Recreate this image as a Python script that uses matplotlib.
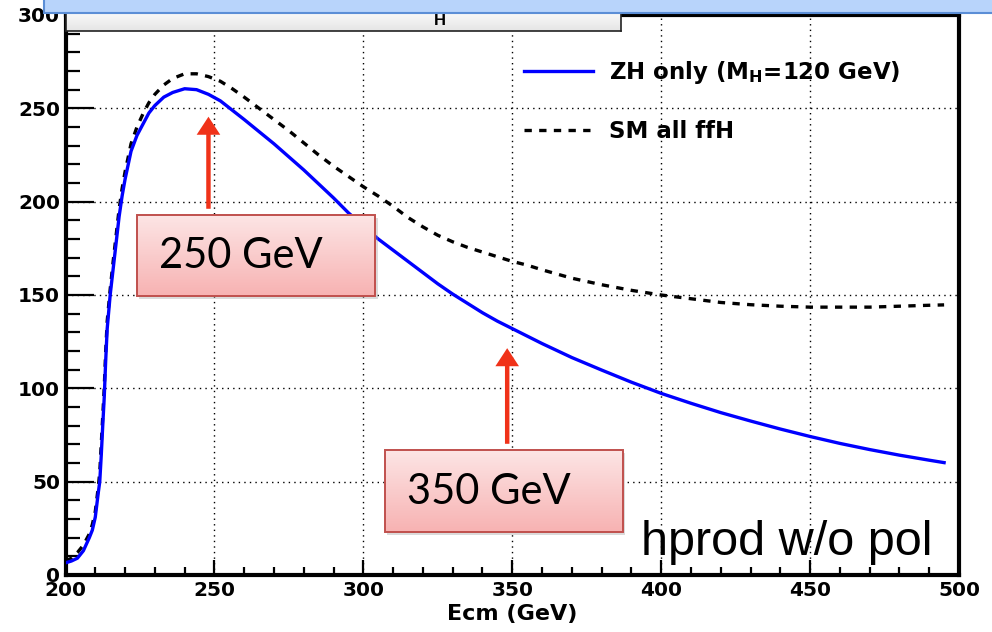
import numpy as np
import matplotlib
matplotlib.use("Agg")
import matplotlib.pyplot as plt
from matplotlib.patches import Rectangle, FancyArrowPatch, ArrowStyle

plt.rcParams["font.family"] = ["DejaVu Sans"]
plt.rcParams["mathtext.fontset"] = "custom"
plt.rcParams["mathtext.rm"] = "DejaVu Sans"
plt.rcParams["mathtext.bf"] = "DejaVu Sans:bold"

# Centre-of-mass energy (GeV)
ecm = [200, 202, 204, 206, 208, 209, 210, 211, 211.5, 212, 212.5, 213, 213.5,
       214, 215, 216, 217, 218, 219, 220, 222, 224, 226, 228, 230, 233, 236,
       240, 244, 248, 252, 256, 260, 265, 270, 275, 280, 285, 290, 295, 300,
       305, 310, 315, 320, 325, 330, 335, 340, 345, 350, 355, 360, 370, 380,
       390, 400, 410, 420, 430, 440, 450, 460, 470, 480, 490, 495]

# Cross section, ZH only (M_H = 120 GeV)
xs_zh = [6.5, 7.5, 9, 13, 20, 24, 31, 44, 50, 64, 80, 95, 115,
         132, 150, 164, 178, 192, 203, 212, 227, 235.5, 241.5, 247.5, 251.5, 256, 258.5,
         260.5, 260, 257.5, 254, 249, 244, 237.5, 231, 224, 217, 209.5, 202, 194, 187,
         180, 174, 168, 162, 156, 150.5, 145.5, 140.5, 136, 132, 128, 124, 116.5, 109.8,
         103.3, 97.3, 92, 87, 82.5, 78.2, 74.2, 70.5, 67.2, 64.2, 61.5, 60.2]

# Cross section, SM all ffH
xs_sm = [7.5, 9, 12, 16, 22, 27, 34, 47, 55, 70, 85, 100, 120,
         136, 153, 168, 182, 196, 207, 216, 231, 240, 247, 253, 257.5, 262.5, 266,
         268.5, 268.5, 267, 264.5, 260.5, 256, 250, 244, 238, 231.5, 225, 219, 213.5, 208,
         203, 197.5, 191.5, 186.5, 182, 178.5, 175.5, 173, 170.5, 168, 166, 163.5, 159, 155.5,
         152.5, 150, 148, 146, 144.8, 144, 143.5, 143.5, 143.5, 144, 144.5, 144.7]

x_major = [200, 250, 300, 350, 400, 450, 500]
y_major = [0, 50, 100, 150, 200, 250, 300]

label_zh = r"ZH only (M$_{\mathbf{H}}$=120 GeV)"
label_sm = "SM all ffH"
x_title = "Ecm (GeV)"
markers = [(248, "250 GeV"), (348.3, "350 GeV")]
note = "hprod w/o pol"

W, H = 992, 632
fig = plt.figure(figsize=(W / 100, H / 100), dpi=100)
ax = fig.add_axes([65.5 / W, 1 - 575 / H, (959 - 65.5) / W, (575 - 15) / H])

ax.plot(ecm, xs_zh, color="#0000ff", lw=2.4, zorder=4, label=label_zh)
ax.plot(ecm, xs_sm, color="black", lw=2.4, ls=(0, (2.2, 2.2)), zorder=3, label=label_sm)

ax.set_xticks(x_major)
ax.set_yticks(y_major)
ax.set_xticks(np.arange(200, 501, 10), minor=True)
ax.set_yticks(np.arange(0, 301, 10), minor=True)
ax.tick_params(axis="both", which="both", direction="in", width=1.6, color="black")
ax.tick_params(axis="y", which="major", length=20, pad=4)
ax.tick_params(axis="y", which="minor", length=10)
ax.tick_params(axis="x", which="major", length=11, pad=4)
ax.tick_params(axis="x", which="minor", length=6)
for lab in ax.get_xticklabels() + ax.get_yticklabels():
    lab.set_fontweight("bold")
    lab.set_fontsize(14.5)

ax.grid(True, which="major", color="black", ls=(0, (1, 3)), lw=1.0)
for sp in ax.spines.values():
    sp.set_linewidth(3)
    sp.set_color("black")

ax.set_xlabel(x_title, fontsize=16, fontweight="bold", labelpad=3)

leg = ax.legend(loc="upper left", bbox_to_anchor=(0.513, 0.922), frameon=False,
                prop={"weight": "bold", "size": 16.5}, handlelength=3.0,
                handletextpad=0.7, labelspacing=1.5, borderpad=0, borderaxespad=0)

# Annotation boxes with arrows
box_specs = [((224, 149.5), 80, 43.5, (231.5, 171)),
             ((307.2, 23), 80, 44, (314.6, 44.5))]
arrow_specs = [(194.7, 247), (68.8, 123)]
for (xpos, text), (anchor, bw, bh, tpos), (y0, y1) in zip(markers, box_specs, arrow_specs):
    arr = FancyArrowPatch((xpos, y0), (xpos, y1),
                          arrowstyle=ArrowStyle.Simple(head_length=13, head_width=17, tail_width=3.2),
                          mutation_scale=1, color="#f03219", lw=0, zorder=6, clip_on=False)
    ax.add_patch(arr)
    # soft shadow
    ax.add_patch(Rectangle((anchor[0] + 0.8, anchor[1] - 1.5), bw, bh, facecolor="#999999",
                           alpha=0.35, lw=0, zorder=6.5, clip_on=False))
    grad = np.linspace(0, 1, 64).reshape(-1, 1)
    top = np.array([0.99, 0.90, 0.90])
    bot = np.array([0.97, 0.70, 0.70])
    img = top[None, None, :] * (1 - grad[:, :, None]) + bot[None, None, :] * grad[:, :, None]
    ax.imshow(img, extent=(anchor[0], anchor[0] + bw, anchor[1], anchor[1] + bh),
              origin="upper", aspect="auto", zorder=7, clip_on=False)
    ax.add_patch(Rectangle(anchor, bw, bh, facecolor="none", edgecolor="#c0504d",
                           lw=1.4, zorder=7.5, clip_on=False))
    ax.text(tpos[0], tpos[1], text, fontsize=30, family=["Lato", "DejaVu Sans"],
            va="center", ha="left", zorder=8)

ax.set_xlim(200, 500)
ax.set_ylim(0, 300)

ax.text(0.97, 0.036, note, transform=ax.transAxes, fontsize=35,
        family=["Liberation Sans", "DejaVu Sans"], ha="right", va="baseline", zorder=5)

# Header panel partially covered by the banner
hdr_grad = np.linspace(0.98, 0.90, 32).reshape(-1, 1)
hdr_ax = fig.add_axes([66 / W, 1 - 31 / H, (621 - 66) / W, 20 / H], zorder=10)
hdr_ax.imshow(np.repeat(hdr_grad[:, :, None], 3, axis=2), aspect="auto",
              extent=(0, 1, 0, 1), origin="upper")
hdr_ax.set_xticks([])
hdr_ax.set_yticks([])
for sp in hdr_ax.spines.values():
    sp.set_color("#222222")
    sp.set_linewidth(1.2)
hdr_ax.text(0.673, 0.55, "H", fontsize=12, fontweight="bold",
            family=["Liberation Sans", "DejaVu Sans"], ha="center", va="center")

# Banner across the top
fig.add_artist(Rectangle((44 / W, 1 - 14 / H), 1.0, 14 / H + 0.01,
                         transform=fig.transFigure, facecolor="#cccccc",
                         edgecolor="none", zorder=11.5))
fig.add_artist(Rectangle((44 / W, 1 - 12.5 / H), 1.0, 12.5 / H + 0.01,
                         transform=fig.transFigure, facecolor="#b8d4fb",
                         edgecolor="#5b8ed6", lw=1.5, zorder=12))

fig.savefig("out.png", dpi=100)
